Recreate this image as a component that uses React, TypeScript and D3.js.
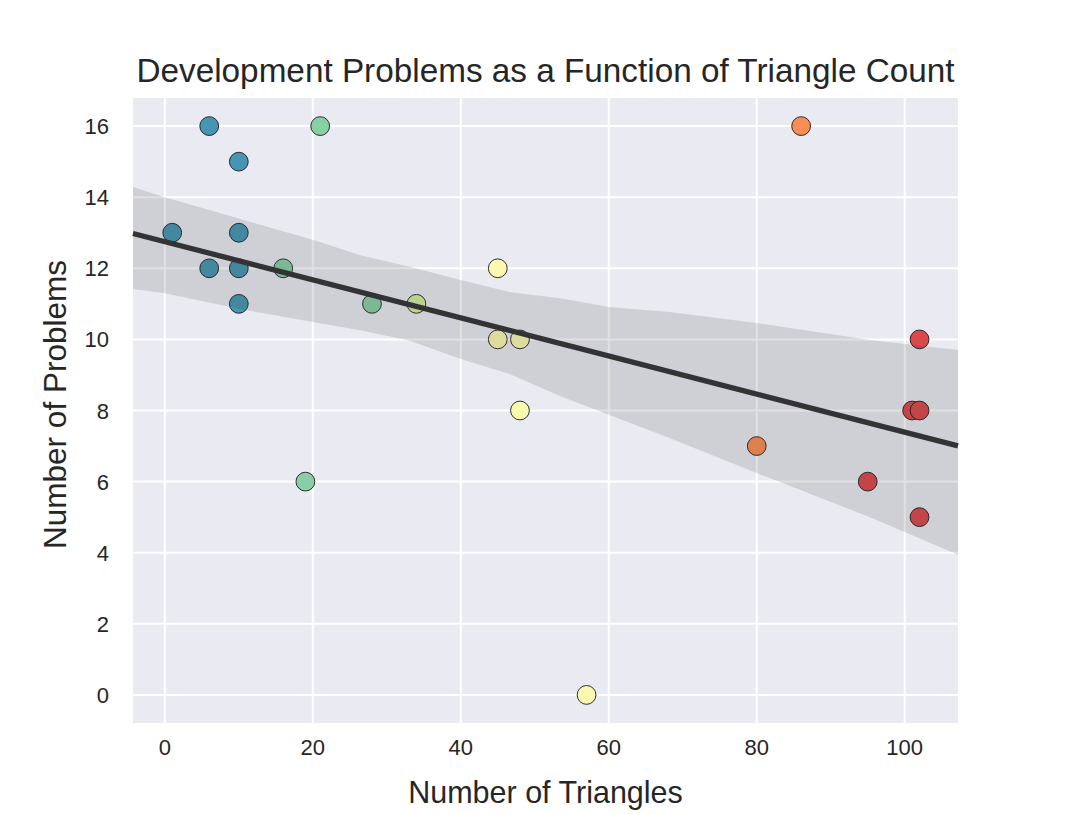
import * as d3 from "d3";
import React, { useEffect, useRef } from "react";

// scatter points: triangle count, problem count, colour group (0 = lowest bin)
const triangles = [6, 10, 21, 1, 10, 6, 10, 16, 10, 28, 34, 45, 45, 48, 48, 19, 57, 86, 80, 102, 101, 102, 95, 102];
const problems = [16, 15, 16, 13, 13, 12, 12, 12, 11, 11, 11, 12, 10, 10, 8, 6, 0, 16, 7, 10, 8, 8, 6, 5];
const groups = [0, 0, 1, 0, 0, 0, 0, 1, 0, 1, 2, 3, 3, 3, 3, 1, 3, 5, 5, 6, 6, 6, 6, 6];

// bootstrap confidence band
const bandX = [-4.3, 0, 10, 20, 26.4, 33.1, 40, 46.6, 53.4, 60, 68.2, 80, 95.3, 107.2];
const bandUpper = [14.29, 14.0, 13.4, 12.8, 12.37, 12.04, 11.67, 11.33, 11.16, 10.91, 10.77, 10.46, 9.98, 9.7];
const bandLower = [11.42, 11.3, 10.86, 10.49, 10.26, 9.96, 9.45, 9.03, 8.41, 7.88, 7.23, 6.24, 5.0, 3.94];

const xTicks = [0, 20, 40, 60, 80, 100];
const yTicks = [0, 2, 4, 6, 8, 10, 12, 14, 16];

const W = 1066;
const H = 814;

export default function App() {
  const svgRef = useRef<SVGSVGElement | null>(null);

  useEffect(() => {
    if (!svgRef.current) return;
    const svg = d3.select(svgRef.current);
    svg.selectAll("*").remove();

    const left = 133, right = 958, top = 98, bottom = 723;
    const x = d3.scaleLinear().domain([-4.3, 107.2]).range([left, right]);
    const y = d3.scaleLinear().domain([-0.79, 16.79]).range([bottom, top]);
    const font = "'Liberation Sans', Arial, sans-serif";
    const textColor = "#262626";

    // palette: 7 bins sampled from reversed Spectral
    const color = (g: number) => d3.interpolateSpectral(1 - (g + 1) / 8);

    svg.append("rect")
      .attr("x", left).attr("y", top)
      .attr("width", right - left).attr("height", bottom - top)
      .attr("fill", "#eaeaf2");

    const grid = svg.append("g").attr("stroke", "#ffffff").attr("stroke-width", 2);
    xTicks.forEach((t) => {
      grid.append("line").attr("x1", x(t)).attr("x2", x(t)).attr("y1", top).attr("y2", bottom);
    });
    yTicks.forEach((t) => {
      grid.append("line").attr("x1", left).attr("x2", right).attr("y1", y(t)).attr("y2", y(t));
    });

    const pts = triangles.map((t, i) => ({ x: t, y: problems[i], g: groups[i] }));

    svg.append("g")
      .selectAll("circle")
      .data(pts)
      .enter()
      .append("circle")
      .attr("cx", (d) => x(d.x))
      .attr("cy", (d) => y(d.y))
      .attr("r", 9.4)
      .attr("fill", (d) => color(d.g))
      .attr("stroke", "#1a1a1a")
      .attr("stroke-width", 0.9);

    // least squares fit
    const mx = d3.mean(triangles) as number;
    const my = d3.mean(problems) as number;
    let sxy = 0, sxx = 0;
    triangles.forEach((t, i) => {
      sxy += (t - mx) * (problems[i] - my);
      sxx += (t - mx) * (t - mx);
    });
    const slope = sxy / sxx;
    const icpt = my - slope * mx;

    const band = d3.area<number>()
      .x((d) => x(d))
      .y0((_, i) => y(bandLower[i]))
      .y1((_, i) => y(bandUpper[i]));
    svg.append("path")
      .attr("d", band(bandX))
      .attr("fill", "#333333")
      .attr("fill-opacity", 0.15);

    const [x0, x1] = x.domain();
    svg.append("line")
      .attr("x1", x(x0)).attr("y1", y(icpt + slope * x0))
      .attr("x2", x(x1)).attr("y2", y(icpt + slope * x1))
      .attr("stroke", "#333333")
      .attr("stroke-width", 5.3);

    // tick labels
    svg.append("g")
      .selectAll("text")
      .data(xTicks)
      .enter()
      .append("text")
      .attr("x", (d) => x(d))
      .attr("y", bottom + 32)
      .attr("text-anchor", "middle")
      .attr("font-family", font)
      .attr("font-size", 22)
      .attr("fill", textColor)
      .text((d) => d);

    svg.append("g")
      .selectAll("text")
      .data(yTicks)
      .enter()
      .append("text")
      .attr("x", left - 24)
      .attr("y", (d) => y(d) + 8)
      .attr("text-anchor", "end")
      .attr("font-family", font)
      .attr("font-size", 22)
      .attr("fill", textColor)
      .text((d) => d);

    svg.append("text")
      .attr("x", (left + right) / 2)
      .attr("y", 803)
      .attr("text-anchor", "middle")
      .attr("font-family", font)
      .attr("font-size", 30.5)
      .attr("fill", textColor)
      .text("Number of Triangles");

    svg.append("text")
      .attr("transform", `translate(66,${(top + bottom) / 2 - 6}) rotate(-90)`)
      .attr("text-anchor", "middle")
      .attr("font-family", font)
      .attr("font-size", 31.5)
      .attr("fill", textColor)
      .text("Number of Problems");

    svg.append("text")
      .attr("x", (left + right) / 2)
      .attr("y", 82)
      .attr("text-anchor", "middle")
      .attr("font-family", font)
      .attr("font-size", 33.3)
      .attr("fill", textColor)
      .text("Development Problems as a Function of Triangle Count");
  }, []);

  return (
    <svg
      ref={svgRef}
      width={W}
      height={H}
      style={{ position: "absolute", left: 0, top: 0, background: "#ffffff" }}
    />
  );
}
